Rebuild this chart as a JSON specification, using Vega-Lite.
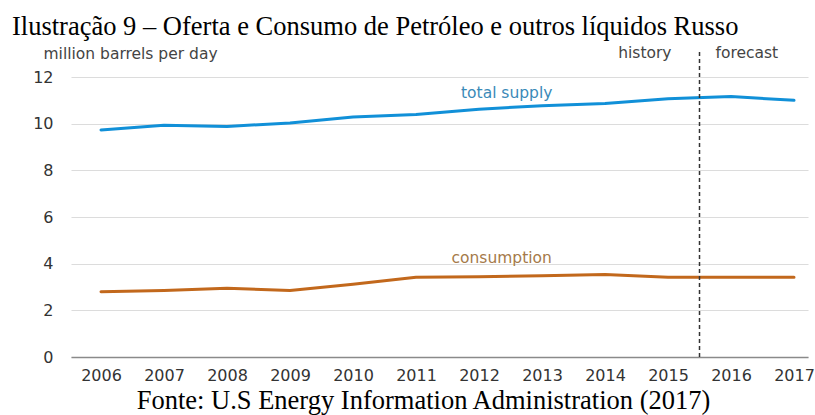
{
  "$schema": "https://vega.github.io/schema/vega-lite/v6.json",
  "width": 737,
  "height": 280,
  "autosize": "none",
  "padding": {"left": 71, "top": 77, "right": 7, "bottom": 58},
  "background": "white",
  "title": {
    "text": "Ilustração 9 – Oferta e Consumo de Petróleo e outros líquidos Russo",
    "anchor": "start",
    "frame": "group",
    "dx": -59,
    "offset": 5,
    "font": "Liberation Serif",
    "fontSize": 26.5,
    "fontWeight": "normal",
    "color": "#000000"
  },
  "config": {
    "view": {"stroke": null},
    "axis": {"labelFont": "DejaVu Sans", "titleFont": "DejaVu Sans"}
  },
  "datasets": {
    "series": [
      {"year": 2006, "value": 9.73, "series": "total supply"},
      {"year": 2007, "value": 9.93, "series": "total supply"},
      {"year": 2008, "value": 9.88, "series": "total supply"},
      {"year": 2009, "value": 10.03, "series": "total supply"},
      {"year": 2010, "value": 10.29, "series": "total supply"},
      {"year": 2011, "value": 10.39, "series": "total supply"},
      {"year": 2012, "value": 10.62, "series": "total supply"},
      {"year": 2013, "value": 10.77, "series": "total supply"},
      {"year": 2014, "value": 10.86, "series": "total supply"},
      {"year": 2015, "value": 11.07, "series": "total supply"},
      {"year": 2016, "value": 11.16, "series": "total supply"},
      {"year": 2017, "value": 11.0, "series": "total supply"},
      {"year": 2006, "value": 2.8, "series": "consumption"},
      {"year": 2007, "value": 2.85, "series": "consumption"},
      {"year": 2008, "value": 2.95, "series": "consumption"},
      {"year": 2009, "value": 2.85, "series": "consumption"},
      {"year": 2010, "value": 3.12, "series": "consumption"},
      {"year": 2011, "value": 3.42, "series": "consumption"},
      {"year": 2012, "value": 3.44, "series": "consumption"},
      {"year": 2013, "value": 3.48, "series": "consumption"},
      {"year": 2014, "value": 3.54, "series": "consumption"},
      {"year": 2015, "value": 3.42, "series": "consumption"},
      {"year": 2016, "value": 3.42, "series": "consumption"},
      {"year": 2017, "value": 3.42, "series": "consumption"}
    ]
  },
  "layer": [
    {
      "data": {"name": "series"},
      "mark": {"type": "line", "strokeWidth": 3, "strokeCap": "round", "strokeJoin": "round"},
      "encoding": {
        "x": {
          "field": "year", "type": "quantitative",
          "scale": {"domain": [2005.524, 2017.222], "nice": false, "zero": false},
          "axis": {
            "values": [2006, 2007, 2008, 2009, 2010, 2011, 2012, 2013, 2014, 2015, 2016, 2017],
            "format": "d",
            "grid": false,
            "ticks": false,
            "domain": true,
            "domainColor": "#8a8a8a",
            "domainWidth": 1.5,
            "labelFontSize": 16,
            "labelColor": "#333333",
            "labelPadding": 10,
            "title": "Fonte: U.S Energy Information Administration (2017)",
            "titleFont": "Liberation Serif",
            "titleFontSize": 26.5,
            "titleFontWeight": "normal",
            "titleColor": "#000000",
            "titleAnchor": "start",
            "titleAlign": "center",
            "titleBaseline": "alphabetic",
            "titleX": 352,
            "titleY": 51
          }
        },
        "y": {
          "field": "value", "type": "quantitative",
          "scale": {"domain": [0, 12], "nice": false},
          "axis": {
            "values": [0, 2, 4, 6, 8, 10, 12],
            "grid": true,
            "gridColor": "#dcdcdc",
            "gridWidth": 1.2,
            "ticks": false,
            "domain": false,
            "labelFontSize": 16,
            "labelColor": "#333333",
            "labelPadding": 18,
            "title": "million barrels per day",
            "titleAngle": 0,
            "titleAlign": "left",
            "titleAnchor": "start",
            "titleBaseline": "alphabetic",
            "titleFontSize": 15.5,
            "titleFontWeight": "normal",
            "titleColor": "#444444",
            "titleX": -28,
            "titleY": -19
          }
        },
        "color": {
          "field": "series", "type": "nominal",
          "scale": {"domain": ["total supply", "consumption"], "range": ["#1190d8", "#c2681c"]},
          "legend": null
        }
      }
    },
    {
      "data": {"values": [{"year": 2015.5, "low": 0, "high": 13.1}]},
      "mark": {"type": "rule", "strokeDash": [4, 3], "strokeWidth": 1.5, "color": "#333333"},
      "encoding": {
        "x": {"field": "year", "type": "quantitative"},
        "y": {"field": "low", "type": "quantitative"},
        "y2": {"field": "high"}
      }
    },
    {
      "data": {"values": [{"year": 2015.5, "value": 13.03, "label": "history"}]},
      "mark": {"type": "text", "align": "right", "baseline": "middle", "dx": -28, "font": "DejaVu Sans", "fontSize": 15.5, "color": "#444444"},
      "encoding": {
        "x": {"field": "year", "type": "quantitative"},
        "y": {"field": "value", "type": "quantitative"},
        "text": {"field": "label"}
      }
    },
    {
      "data": {"values": [{"year": 2015.5, "value": 13.03, "label": "forecast"}]},
      "mark": {"type": "text", "align": "left", "baseline": "middle", "dx": 16, "font": "DejaVu Sans", "fontSize": 15.5, "color": "#444444"},
      "encoding": {
        "x": {"field": "year", "type": "quantitative"},
        "y": {"field": "value", "type": "quantitative"},
        "text": {"field": "label"}
      }
    },
    {
      "data": {"values": [
        {"year": 2012.44, "value": 11.31, "label": "total supply", "series": "total supply"},
        {"year": 2012.36, "value": 4.24, "label": "consumption", "series": "consumption"}
      ]},
      "mark": {"type": "text", "align": "center", "baseline": "middle", "font": "DejaVu Sans", "fontSize": 15.5},
      "encoding": {
        "x": {"field": "year", "type": "quantitative"},
        "y": {"field": "value", "type": "quantitative"},
        "text": {"field": "label"},
        "color": {
          "field": "series", "type": "nominal",
          "scale": {"domain": ["total supply", "consumption"], "range": ["#3a8ab8", "#a57a4a"]},
          "legend": null
        }
      }
    }
  ],
  "resolve": {"scale": {"color": "independent"}}
}
